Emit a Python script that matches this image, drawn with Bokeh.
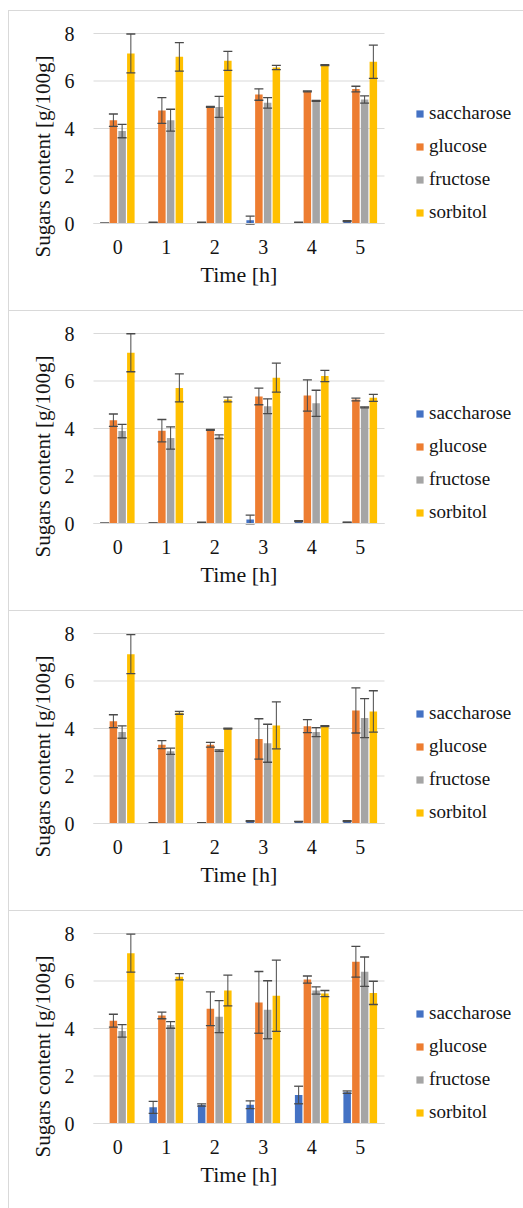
from bokeh.plotting import figure
from bokeh.models import (ColumnDataSource, Range1d, FixedTicker,
                          Legend, LegendItem, Spacer)
from bokeh.layouts import column, row
from bokeh.transform import dodge
from bokeh.embed import file_html
from bokeh.resources import INLINE

NaN = float("nan")

times = [0, 1, 2, 3, 4, 5]
series = ["saccharose", "glucose", "fructose", "sorbitol"]
colors = ["#4472C4", "#ED7D31", "#A5A5A5", "#FFC000"]
y_ticks = [0, 2, 4, 6, 8]

# Panel A
A_saccharose = [0.02, 0.05, 0.05, 0.14, 0.05, 0.10]
A_saccharose_err = [0.0, 0.01, 0.01, 0.17, 0.01, 0.02]
A_glucose = [4.35, 4.76, 4.91, 5.43, 5.56, 5.66]
A_glucose_err = [0.26, 0.54, 0.02, 0.24, 0.02, 0.12]
A_fructose = [3.89, 4.35, 4.91, 5.08, 5.16, 5.22]
A_fructose_err = [0.28, 0.46, 0.44, 0.22, 0.02, 0.15]
A_sorbitol = [7.16, 7.02, 6.85, 6.57, 6.67, 6.81]
A_sorbitol_err = [0.82, 0.60, 0.40, 0.09, 0.02, 0.70]

# Panel B
B_saccharose = [0.02, 0.02, 0.05, 0.17, 0.10, 0.05]
B_saccharose_err = [0.0, 0.01, 0.01, 0.18, 0.02, 0.01]
B_glucose = [4.35, 3.91, 3.94, 5.35, 5.39, 5.22]
B_glucose_err = [0.26, 0.47, 0.02, 0.35, 0.66, 0.06]
B_fructose = [3.89, 3.60, 3.65, 4.94, 5.06, 4.89]
B_fructose_err = [0.28, 0.47, 0.08, 0.31, 0.55, 0.02]
B_sorbitol = [7.19, 5.71, 5.22, 6.14, 6.21, 5.29]
B_sorbitol_err = [0.80, 0.59, 0.10, 0.61, 0.24, 0.15]

# Panel C
C_saccharose = [0.0, 0.03, 0.03, 0.10, 0.08, 0.10]
C_saccharose_err = [NaN, 0.01, 0.01, 0.02, 0.01, 0.02]
C_glucose = [4.31, 3.32, 3.32, 3.56, 4.10, 4.76]
C_glucose_err = [0.27, 0.17, 0.10, 0.85, 0.27, 0.95]
C_fructose = [3.85, 3.04, 3.07, 3.38, 3.85, 4.44]
C_fructose_err = [0.26, 0.13, 0.03, 0.80, 0.19, 0.82]
C_sorbitol = [7.13, 4.66, 3.99, 4.13, 4.10, 4.72]
C_sorbitol_err = [0.82, 0.06, 0.02, 0.99, 0.02, 0.87]

# Panel D
D_saccharose = [0.0, 0.68, 0.78, 0.79, 1.20, 1.32]
D_saccharose_err = [NaN, 0.25, 0.05, 0.16, 0.37, 0.05]
D_glucose = [4.33, 4.55, 4.83, 5.10, 6.06, 6.81]
D_glucose_err = [0.27, 0.14, 0.71, 1.30, 0.15, 0.65]
D_fructose = [3.90, 4.15, 4.50, 4.79, 5.60, 6.39]
D_fructose_err = [0.26, 0.14, 0.67, 1.22, 0.15, 0.62]
D_sorbitol = [7.17, 6.18, 5.60, 5.38, 5.47, 5.50]
D_sorbitol_err = [0.80, 0.13, 0.65, 1.50, 0.13, 0.49]

panels = [
    ([A_saccharose, A_glucose, A_fructose, A_sorbitol],
     [A_saccharose_err, A_glucose_err, A_fructose_err, A_sorbitol_err]),
    ([B_saccharose, B_glucose, B_fructose, B_sorbitol],
     [B_saccharose_err, B_glucose_err, B_fructose_err, B_sorbitol_err]),
    ([C_saccharose, C_glucose, C_fructose, C_sorbitol],
     [C_saccharose_err, C_glucose_err, C_fructose_err, C_sorbitol_err]),
    ([D_saccharose, D_glucose, D_fructose, D_sorbitol],
     [D_saccharose_err, D_glucose_err, D_fructose_err, D_sorbitol_err]),
]

FONT = "Liberation Serif"
TEXT = "#141414"
ERR = "#4a4a4a"
GRID = "#d9d9d9"
offsets = [-0.27, -0.09, 0.09, 0.27]
BAR_W = 0.155

# layout in pixels within each panel (frame = whole panel)
W = 515
PLOT_L, PLOT_R = 84, 375          # plot area left / right
PLOT_T, PLOT_B = 22, 212          # "8" line / "0" line
X0, X1 = times[0] - 0.5, times[-1] + 0.5
PX_X = (PLOT_R - PLOT_L) / (X1 - X0)
PX_Y = (PLOT_B - PLOT_T) / 8.0
YLAB_CENTER = 145                 # y-axis title centre, px from panel top


def make_panel(vals, errs, h):
    x_range = Range1d(X0 - PLOT_L / PX_X, X1 + (W - PLOT_R) / PX_X)
    y_range = Range1d(-(h - PLOT_B) / PX_Y, 8 + PLOT_T / PX_Y)
    p = figure(x_range=x_range, y_range=y_range, width=W, height=h,
               output_backend="svg", toolbar_location=None,
               min_border=0, min_border_left=0, min_border_right=0,
               min_border_top=0, min_border_bottom=0, outline_line_color=None)
    p.grid.visible = False

    # horizontal grid lines across the plot area
    gsrc = ColumnDataSource(dict(x0=[X0] * len(y_ticks), x1=[X1] * len(y_ticks), y=y_ticks))
    p.segment(x0="x0", y0="y", x1="x1", y1="y", source=gsrc, line_color=GRID, line_width=1)

    yc = (PLOT_B - YLAB_CENTER) / PX_Y
    yax = p.yaxis[0]
    yax.fixed_location = X0
    yax.bounds = (2 * yc - 8, 8)
    yax.ticker = FixedTicker(ticks=y_ticks)
    yax.axis_line_color = None
    yax.major_tick_line_color = None
    yax.minor_tick_line_color = None
    yax.major_label_standoff = 13
    yax.axis_label = "Sugars content [g/100g]"
    yax.axis_label_text_font_size = "21px"
    yax.axis_label_standoff = 7

    xax = p.xaxis[0]
    xax.fixed_location = 0
    xax.bounds = (X0, X1)
    xax.ticker = FixedTicker(ticks=times)
    xax.axis_line_color = GRID
    xax.major_tick_line_color = None
    xax.minor_tick_line_color = None
    xax.major_label_standoff = 10
    xax.axis_label = "Time [h]"
    xax.axis_label_text_font_size = "22px"
    xax.axis_label_standoff = 5
    for ax in (xax, yax):
        ax.major_label_text_font = FONT
        ax.major_label_text_font_size = "20px"
        ax.major_label_text_color = TEXT
        ax.axis_label_text_font = FONT
        ax.axis_label_text_font_style = "normal"
        ax.axis_label_text_color = TEXT

    items = []
    for name, c, off, v, e in zip(series, colors, offsets, vals, errs):
        lo = [a - b for a, b in zip(v, e)]
        hi = [a + b for a, b in zip(v, e)]
        src = ColumnDataSource(dict(t=times, v=v, lo=lo, hi=hi))
        xx = dodge("t", off)
        r = p.vbar(x=xx, top="v", bottom=0, width=BAR_W, source=src,
                   fill_color=c, line_color=None)
        p.segment(x0=xx, y0="lo", x1=xx, y1="hi", source=src, line_color=ERR, line_width=1)
        p.scatter(x=xx, y="hi", source=src, marker="dash", size=9, line_color=ERR, line_width=1.3)
        p.scatter(x=xx, y="lo", source=src, marker="dash", size=9, line_color=ERR, line_width=1.3)
        items.append(LegendItem(label=name, renderers=[r]))

    legend = Legend(items=items, location=(406, h - PLOT_B), orientation="vertical",
                    glyph_width=9, glyph_height=9, label_height=20, spacing=11,
                    padding=0, margin=0, label_standoff=5,
                    border_line_color=None, background_fill_alpha=0,
                    label_text_font=FONT, label_text_font_size="19px",
                    label_text_color=TEXT)
    p.add_layout(legend)

    p.styles = {"border-left": "1px solid #d9d9d9", "border-top": "1px solid #d9d9d9"}
    return p


figs = []
heights = [300, 300, 300, 298]
for i, (vals, errs) in enumerate(panels):
    figs.append(make_panel(vals, errs, heights[i]))

layout = row(Spacer(width=8, height=10),
             column(Spacer(width=W, height=10), *figs))

open("out.html", "w").write(file_html(layout, INLINE))
